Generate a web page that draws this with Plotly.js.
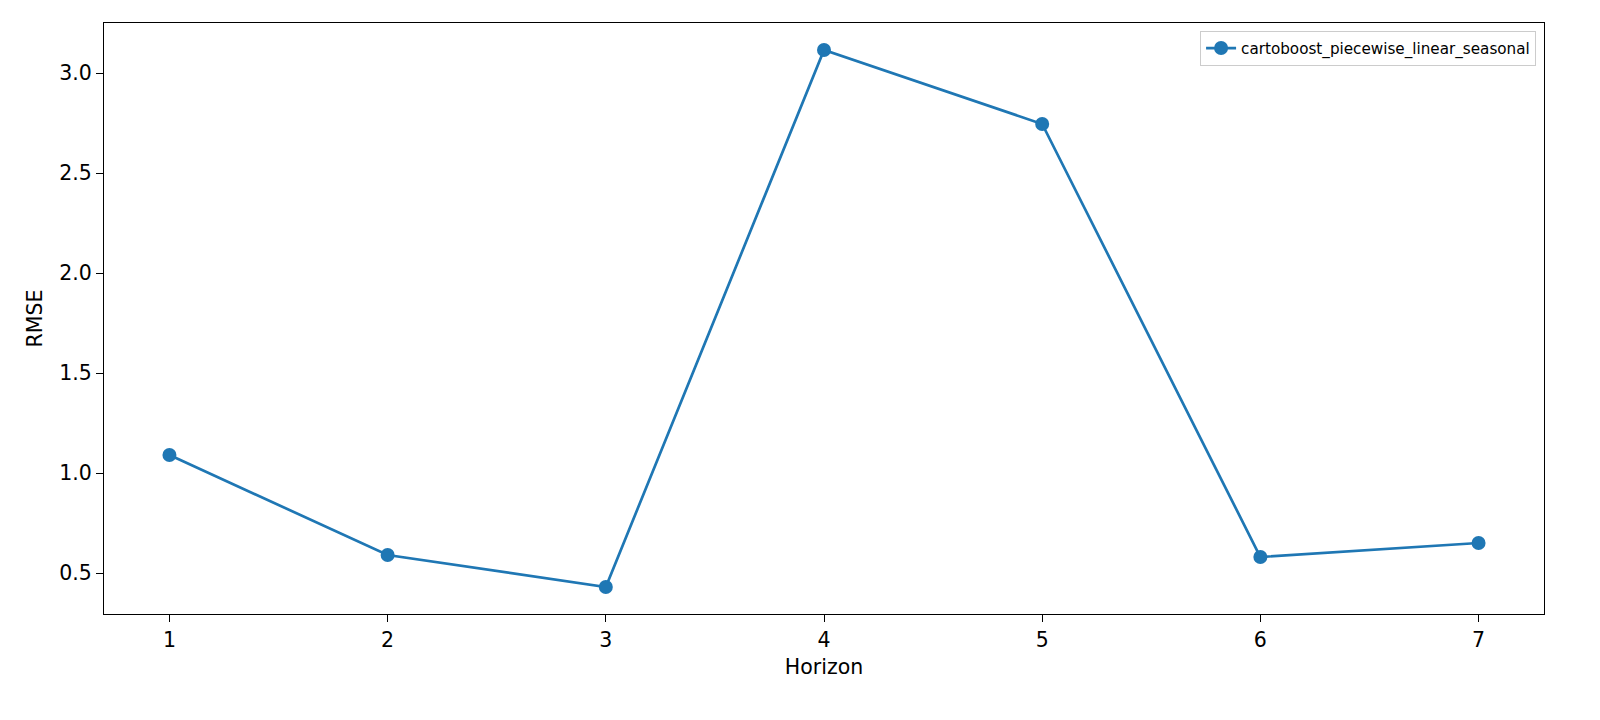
<!DOCTYPE html>
<html>
<head>
<meta charset="utf-8">
<script src="https://cdn.plot.ly/plotly-3.0.1.min.js"></script>
<style>
  html, body { margin: 0; padding: 0; background: #ffffff; }
  #rmse-chart { width: 1600px; height: 720px; }
</style>
</head>
<body>
<div id="rmse-chart"></div>
<script>
// RMSE per forecast horizon
const horizons = [1, 2, 3, 4, 5, 6, 7];
const rmseValues = [1.09, 0.59, 0.43, 3.115, 2.745, 0.58, 0.65];
const seriesName = 'cartoboost_piecewise_linear_seasonal';
const yTicks = [0.5, 1.0, 1.5, 2.0, 2.5, 3.0];
const yTickLabels = ['0.5', '1.0', '1.5', '2.0', '2.5', '3.0'];

function createRmseChart() {
    if (typeof Plotly === 'undefined') return;

    const trace = {
        x: horizons,
        y: rmseValues,
        type: 'scatter',
        mode: 'lines+markers',
        name: seriesName,
        line: { color: '#1f77b4', width: 2.7 },
        marker: { size: 14, color: '#1f77b4' }
    };

    const axisCommon = {
        showline: true,
        linecolor: '#000000',
        linewidth: 1.3,
        mirror: true,
        showgrid: false,
        zeroline: false,
        ticks: 'outside',
        ticklen: 7,
        tickwidth: 1.3,
        tickcolor: '#000000',
        tickfont: { family: 'DejaVu Sans', size: 20.5, color: '#000000' }
    };

    const layout = {
        width: 1600,
        height: 720,
        paper_bgcolor: '#ffffff',
        plot_bgcolor: '#ffffff',
        margin: { l: 104, r: 56, t: 23, b: 106 },
        font: { family: 'DejaVu Sans', color: '#000000' },
        xaxis: Object.assign({}, axisCommon, {
            range: [0.7, 7.3],
            tickvals: horizons,
            title: { text: 'Horizon', font: { size: 20.5 }, standoff: 8 }
        }),
        yaxis: Object.assign({}, axisCommon, {
            range: [0.295, 3.25],
            tickvals: yTicks,
            ticktext: yTickLabels,
            title: { text: 'RMSE', font: { size: 20.5 }, standoff: 10 }
        }),
        showlegend: true,
        legend: {
            x: 0.9945,
            y: 0.987,
            xanchor: 'right',
            yanchor: 'top',
            bgcolor: 'rgba(255,255,255,0.8)',
            bordercolor: '#cccccc',
            borderwidth: 1,
            font: { family: 'DejaVu Sans', size: 15.2, color: '#000000' }
        }
    };

    try {
        Plotly.newPlot('rmse-chart', [trace], layout, { displayModeBar: false, responsive: false });
    } catch (error) {
        console.log('Error creating RMSE chart:', error);
    }
}

createRmseChart();
</script>
</body>
</html>
